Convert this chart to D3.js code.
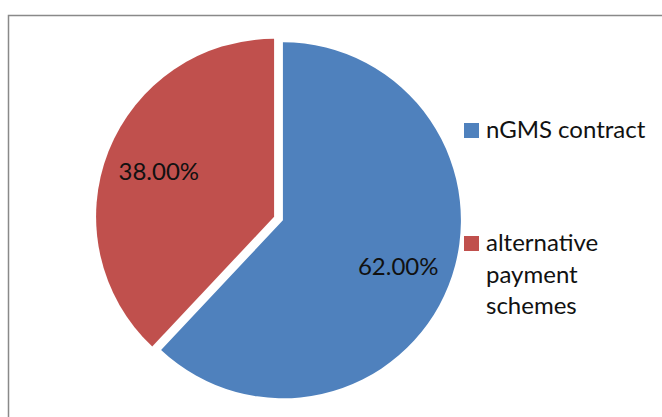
<!DOCTYPE html>
<html>
<head>
<meta charset="utf-8">
<script src="https://cdn.jsdelivr.net/npm/d3@7"></script>
<style>
  body { margin: 0; background: #fff; }
  svg { display: block; }
</style>
</head>
<body>
<div id="chart"></div>
<script>
// pie data
var categories = ['nGMS contract', 'alternative payment schemes'];
var values = [62, 38];
var labels = ['62.00%', '38.00%'];
var legendLines = [['nGMS contract'], ['alternative', 'payment', 'schemes']];
var colors = ['#4F81BD', '#C0504D'];

var W = 662, H = 417;
var fontFam = 'Lato, "Open Sans", sans-serif';

var svg = d3.select('#chart').append('svg')
    .attr('width', W)
    .attr('height', H);

// chart frame (runs off the right and bottom edge)
svg.append('rect')
    .attr('x', 8.5).attr('y', 15.5)
    .attr('width', 660).attr('height', 420)
    .attr('fill', 'none')
    .attr('stroke', '#898989')
    .attr('stroke-width', 1.5);

var cx = 278.5, cy = 218.5, radius = 178, explode = 4.75;

var pie = d3.pie().sort(null).value(d => d);
var arcs = pie(values);
var arc = d3.arc().innerRadius(0).outerRadius(radius);
var labelArc = d3.arc().innerRadius(124).outerRadius(124);

var g = svg.append('g').attr('transform', 'translate(' + cx + ',' + cy + ')');

var slices = g.selectAll('g.slice')
    .data(arcs)
    .enter().append('g')
    .attr('class', 'slice')
    .attr('transform', function(d){
        var mid = (d.startAngle + d.endAngle) / 2;
        return 'translate(' + (Math.sin(mid) * explode) + ',' + (-Math.cos(mid) * explode) + ')';
    });

slices.append('path')
    .attr('d', arc)
    .attr('fill', (d, i) => colors[i]);

slices.append('text')
    .attr('transform', d => 'translate(' + labelArc.centroid(d) + ')')
    .attr('text-anchor', 'middle')
    .attr('dy', '0.36em')
    .attr('font-family', fontFam)
    .attr('font-size', '24px')
    .attr('fill', '#111')
    .text((d, i) => labels[i]);

// legend
var legendY = [123, 236];
var legend = svg.append('g');
categories.forEach(function(c, i){
    legend.append('rect')
        .attr('x', 464).attr('y', legendY[i])
        .attr('width', 15).attr('height', 15)
        .attr('fill', colors[i]);
    var t = legend.append('text')
        .attr('x', 486)
        .attr('y', legendY[i] + 15)
        .attr('font-family', fontFam)
        .attr('font-size', '24px')
        .attr('fill', '#111');
    legendLines[i].forEach(function(line, j){
        t.append('tspan')
            .attr('x', 486)
            .attr('dy', j === 0 ? 0 : 31.5)
            .text(line);
    });
});
</script>
</body>
</html>
